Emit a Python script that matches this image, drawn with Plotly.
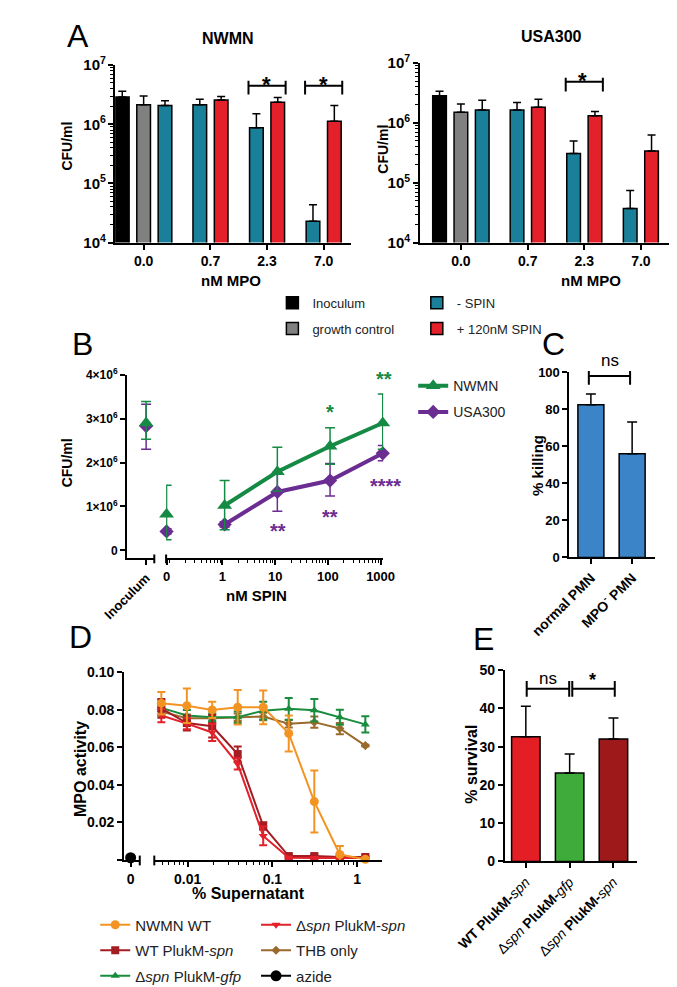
import plotly.graph_objects as go

W, H = 677, 987
FONT = "Liberation Sans"


def X(p):
    return p / W


def Y(p):
    return 1 - p / H


# ---------------- Panel A data (CFU/ml) ----------------
mpo_labels = ["0.0", "0.7", "2.3", "7.0"]
nwmn_inoculum = [2.9e6]
nwmn_inoculum_err = [0.7e6]
nwmn_growth = [2.14e6]
nwmn_growth_err = [0.86e6]
nwmn_minus_spin = [2.07e6, 2.14e6, 8.7e5, 2.3e4]
nwmn_minus_spin_err = [0.43e6, 0.52e6, 0.63e6, 2.05e4]
nwmn_plus_spin = [2.57e6, 2.35e6, 1.13e6]          # at 0.7, 2.3, 7.0 nM
nwmn_plus_spin_err = [0.38e6, 0.49e6, 0.94e6]

usa_inoculum = [2.85e6]
usa_inoculum_err = [0.55e6]
usa_growth = [1.51e6]
usa_growth_err = [0.56e6]
usa_minus_spin = [1.65e6, 1.65e6, 3.1e5, 3.7e4]
usa_minus_spin_err = [0.75e6, 0.55e6, 1.9e5, 3.7e4]
usa_plus_spin = [1.83e6, 1.32e6, 3.4e5]
usa_plus_spin_err = [0.67e6, 0.23e6, 2.9e5]

# ---------------- Panel B data ----------------
spin_conc = [0, 1.1, 11, 110, 1100]
spin_ticks = ["0", "1", "10", "100", "1000"]
nwmn_inoc_b = [2.90e6]
nwmn_inoc_b_up = [0.49e6]
nwmn_inoc_b_down = [0.37e6]
usa_inoc_b = [2.83e6]
usa_inoc_b_up = [0.5e6]
usa_inoc_b_down = [0.53e6]
nwmn_cfu = [0.82e6, 1.02e6, 1.79e6, 2.37e6, 2.90e6]
nwmn_up = [0.66e6, 0.57e6, 0.56e6, 0.42e6, 0.66e6]
nwmn_down = [0.58e6, 0.55e6, 0.44e6, 0.41e6, 0.6e6]
usa_cfu = [0.43e6, 0.59e6, 1.33e6, 1.59e6, 2.21e6]
usa_up = [0.06e6, 0.06e6, 0.45e6, 0.39e6, 0.18e6]
usa_down = [0.06e6, 0.06e6, 0.44e6, 0.35e6, 0.17e6]

# ---------------- Panel C data ----------------
c_labels = ["normal PMN", "MPO<sup>-</sup> PMN"]
c_values = [82.4, 55.9]
c_err = [5.8, 17.1]

# ---------------- Panel D data ----------------
supernatant = [0.0049, 0.0098, 0.0195, 0.039, 0.078, 0.156, 0.3125, 0.625, 1.25]
nwmn_wt = [0.0835, 0.0821, 0.0799, 0.0813, 0.0813, 0.0674, 0.0311, 0.0029, 0.0004]
nwmn_wt_err = [0.006, 0.0092, 0.0043, 0.0092, 0.009, 0.0096, 0.0165, 0.0045, 0.0008]
wt_pluk_spn = [0.0807, 0.0729, 0.0712, 0.0564, 0.0181, 0.0021, 0.0021, 0.0016, 0.0016]
wt_pluk_spn_err = [0.005, 0.004, 0.006, 0.004, 0.002, 0.0008, 0.0008, 0.0008, 0.0008]
dspn_gfp = [0.081, 0.0769, 0.076, 0.076, 0.0795, 0.0805, 0.0797, 0.076, 0.0722]
dspn_gfp_err = [0.004, 0.003, 0.002, 0.003, 0.0047, 0.0058, 0.006, 0.004, 0.0043]
dspn_spn = [0.0769, 0.0726, 0.0679, 0.0512, 0.0128, 0.0012, 0.0011, 0.001, 0.001]
dspn_spn_err = [0.0035, 0.003, 0.0045, 0.003, 0.005, 0.0005, 0.0005, 0.0005, 0.0005]
thb_only = [0.079, 0.0755, 0.0755, 0.076, 0.0764, 0.0726, 0.0734, 0.070, 0.0609]
thb_only_err = [0.002, 0.002, 0.002, 0.002, 0.002, 0.002, 0.003, 0.003, 0.0005]
azide = [0.0012]
d_ticks = ["0.01", "0.1", "1"]

# ---------------- Panel E data ----------------
e_labels = ["<b>WT PlukM-</b><i>spn</i>",
            "Δ<i>spn</i> <b>PlukM-</b><i>gfp</i>",
            "Δ<i>spn</i> <b>PlukM-</b><i>spn</i>"]
e_values = [32.6, 23.1, 32.0]
e_err = [8.0, 5.0, 5.5]

# ---------------- colours ----------------
BLACK = "#000000"
GRAY = "#808080"
TEAL = "#1a7f98"
RED = "#e4202a"
B_GREEN = "#158a45"
B_PURPLE = "#6b2d92"
C_BLUE = "#3b84c8"
D_ORANGE = "#f39322"
D_DARKRED = "#a31d22"
D_GREEN = "#1a8c3e"
D_RED = "#e3212a"
D_BROWN = "#9a6a2c"
E_COLORS = ["#e31e24", "#3eab3a", "#9e1a1a"]

# layout constants for panel A (bar slots)
GROUP_POS = [0, 3.13, 5.78, 8.43]
BW = 0.64

fig = go.Figure()


def bar_trace(x, y, err, color, name, xa, ya, legend="legend", showlegend=False):
    return go.Bar(
        x=x, y=y, width=BW, name=name, xaxis=xa, yaxis=ya,
        marker=dict(color=color, line=dict(color="black", width=1.5)),
        error_y=dict(type="data", array=err, arrayminus=[0] * len(err), symmetric=False,
                     color="black", thickness=1.5, width=4),
        legend=legend, showlegend=showlegend, legendgroup=name,
    )


for (xa, ya, inoc, inoc_e, gr, gr_e, mi, mi_e, pl, pl_e, show) in [
    ("x", "y", nwmn_inoculum, nwmn_inoculum_err, nwmn_growth, nwmn_growth_err,
     nwmn_minus_spin, nwmn_minus_spin_err, nwmn_plus_spin, nwmn_plus_spin_err, True),
    ("x2", "y2", usa_inoculum, usa_inoculum_err, usa_growth, usa_growth_err,
     usa_minus_spin, usa_minus_spin_err, usa_plus_spin, usa_plus_spin_err, False),
]:
    g = GROUP_POS
    fig.add_trace(bar_trace([g[0] - 1], inoc, inoc_e, BLACK, "Inoculum", xa, ya, "legend", show))
    fig.add_trace(bar_trace([g[0]], gr, gr_e, GRAY, "growth control", xa, ya, "legend", show))
    fig.add_trace(bar_trace([g[0] + 1] + [p - 0.5 for p in g[1:]], mi, mi_e, TEAL, "- SPIN", xa, ya, "legend2", show))
    fig.add_trace(bar_trace([p + 0.5 for p in g[1:]], pl, pl_e, RED, "+ 120nM SPIN", xa, ya, "legend2", show))

# ---------------- Panel B traces ----------------
ZERO_POS = 10 ** -1.06
spin_x = [ZERO_POS if c == 0 else c for c in spin_conc]


def b_err(up, down, color):
    return dict(type="data", array=up, arrayminus=down, symmetric=False, color=color, thickness=1.5, width=5)


B_SERIES = [
    ("USA300", usa_inoc_b, usa_inoc_b_up, usa_inoc_b_down, usa_cfu, usa_up, usa_down, B_PURPLE, "diamond", 11, 2),
    ("NWMN", nwmn_inoc_b, nwmn_inoc_b_up, nwmn_inoc_b_down, nwmn_cfu, nwmn_up, nwmn_down, B_GREEN, "triangle-up", 13, 1),
]
for name, inoc, iu, idn, vals, up, dn, col, sym, size, rank in B_SERIES:
    mk = dict(color=col, symbol=sym, size=size)
    fig.add_trace(go.Scatter(x=[0], y=inoc, mode="markers", marker=mk, error_y=b_err(iu, idn, col),
                             xaxis="x3", yaxis="y3", showlegend=False, cliponaxis=False))
    fig.add_trace(go.Scatter(x=spin_x[:1], y=vals[:1], mode="markers", marker=mk,
                             error_y=b_err(up[:1], dn[:1], col),
                             xaxis="x4", yaxis="y3", showlegend=False, cliponaxis=False))
    fig.add_trace(go.Scatter(x=spin_x[1:], y=vals[1:], mode="lines+markers", marker=mk,
                             line=dict(color=col, width=4), error_y=b_err(up[1:], dn[1:], col),
                             xaxis="x4", yaxis="y3", name=name, legend="legend3", legendrank=rank,
                             legendgroup=name, showlegend=True, cliponaxis=False))

# ---------------- Panel C ----------------
fig.add_trace(go.Bar(x=c_labels, y=c_values, width=0.63, xaxis="x5", yaxis="y5", showlegend=False,
                     marker=dict(color=C_BLUE, line=dict(color="black", width=1.5)),
                     error_y=dict(type="data", array=c_err, arrayminus=[0, 0], symmetric=False,
                                  color="black", thickness=1.5, width=5)))

# ---------------- Panel D ----------------
D_SERIES = [
    ("THB only", thb_only, thb_only_err, D_BROWN, "diamond", 7, "legend5", 2),
    ("Δ<i>spn</i> PlukM-<i>gfp</i>", dspn_gfp, dspn_gfp_err, D_GREEN, "triangle-up", 8, "legend4", 3),
    ("WT PlukM-<i>spn</i>", wt_pluk_spn, wt_pluk_spn_err, D_DARKRED, "square", 8, "legend4", 2),
    ("Δ<i>spn</i> PlukM-<i>spn</i>", dspn_spn, dspn_spn_err, D_RED, "triangle-down", 8, "legend5", 1),
    ("NWMN WT", nwmn_wt, nwmn_wt_err, D_ORANGE, "circle", 9, "legend4", 1),
]
for name, vals, err, col, sym, size, leg, rank in D_SERIES:
    fig.add_trace(go.Scatter(
        x=supernatant, y=vals, mode="lines+markers", name=name,
        marker=dict(color=col, symbol=sym, size=size), line=dict(color=col, width=2),
        error_y=dict(type="data", array=err, color=col, thickness=2, width=4),
        xaxis="x7", yaxis="y6", legend=leg, legendrank=rank, legendgroup=name, cliponaxis=False))
fig.add_trace(go.Scatter(x=[0], y=azide, mode="lines+markers", name="azide",
                         marker=dict(color="black", symbol="circle", size=11),
                         line=dict(color="black", width=2),
                         xaxis="x6", yaxis="y6", legend="legend5", legendrank=3, legendgroup="azide",
                         cliponaxis=False))

# ---------------- Panel E ----------------
fig.add_trace(go.Bar(x=e_labels, y=e_values, width=0.65, xaxis="x8", yaxis="y8", showlegend=False,
                     marker=dict(color=E_COLORS, line=dict(color="black", width=1.5)),
                     error_y=dict(type="data", array=e_err, arrayminus=[0, 0, 0], symmetric=False,
                                  color="black", thickness=1.5, width=5)))


# ---------------- axes ----------------
def ax(**kw):
    base = dict(showline=True, linecolor="black", linewidth=2, ticks="outside", ticklen=5,
                tickwidth=2, tickcolor="black", showgrid=False, zeroline=False, fixedrange=True,
                tickfont=dict(family=FONT, size=13, color="black", weight="bold"))
    base.update(kw)
    return base


def tf(size, bold=True):
    return dict(family=FONT, size=size, color="black", weight="bold" if bold else "normal")


minor_log = dict(ticks="outside", ticklen=3, tickwidth=1, tickcolor="black", showgrid=False, dtick="D1")

layout_axes = dict(
    # A left
    xaxis=ax(domain=[X(63), X(323)], range=[-1.33, 9.73], anchor="y", tickmode="array",
             tickvals=GROUP_POS, ticktext=mpo_labels, tickfont=tf(14)),
    yaxis=ax(domain=[Y(228), Y(47)], type="log", range=[4, 7], anchor="x", tickmode="linear", tick0=0,
             dtick=1, exponentformat="power", tickfont=tf(12), minor=minor_log),
    # A right
    xaxis2=ax(domain=[X(398), X(675)], range=[-1.936, 9.85], anchor="y2", tickmode="array",
              tickvals=GROUP_POS, ticktext=mpo_labels, tickfont=tf(14)),
    yaxis2=ax(domain=[Y(228), Y(45)], type="log", range=[4, 7], anchor="x2", tickmode="linear", tick0=0,
              dtick=1, exponentformat="power", tickfont=tf(12), minor=minor_log),
    # B
    xaxis3=ax(domain=[X(76), X(106)], range=[-0.7, 0.3], anchor="y3", tickmode="array",
              tickvals=[0], ticktext=["Inoculum"], tickangle=-45),
    xaxis4=ax(domain=[X(119), X(358)], type="log", range=[-1.069, 3.05], anchor="y3", tickmode="array",
              tickvals=[ZERO_POS, 1, 10, 100, 1000], ticktext=spin_ticks, minor=minor_log),
    yaxis3=ax(domain=[Y(550), Y(362.7)], range=[-0.184e6, 4e6], anchor="x3", tickmode="array",
              tickvals=[0, 1e6, 2e6, 3e6, 4e6],
              ticktext=["0", "1×10<sup>6</sup>", "2×10<sup>6</sup>", "3×10<sup>6</sup>", "4×10<sup>6</sup>"],
              tickfont=tf(12)),
    # C
    xaxis5=ax(domain=[X(563), X(657)], range=[-0.52, 1.55], anchor="y5", type="category", tickangle=-45,
              tickfont=tf(14)),
    yaxis5=ax(domain=[Y(549), Y(360)], range=[0, 100], anchor="x5", tickmode="array",
              tickvals=[0, 20, 40, 60, 80, 100], tickfont=tf(13)),
    # D
    xaxis6=ax(domain=[X(72.7), X(90)], range=[-0.42, 0.58], anchor="y6", tickmode="array",
              tickvals=[0], ticktext=["0"], tickfont=tf(14)),
    xaxis7=ax(domain=[X(106), X(357)], type="log", range=[-2.393, 0.297], anchor="y6", tickmode="array",
              tickvals=[0.01, 0.1, 1], ticktext=d_ticks, minor=minor_log, tickfont=tf(14)),
    yaxis6=ax(domain=[Y(857.5), Y(666)], range=[0, 0.1], anchor="x6", tickmode="array",
              tickvals=[0, 0.02, 0.04, 0.06, 0.08, 0.10], ticktext=["", "0.02", "0.04", "0.06", "0.08", "0.10"],
              tickfont=tf(14)),
    # E
    xaxis8=ax(domain=[X(492), X(637)], range=[-0.477, 2.53], anchor="y8", type="category", tickangle=-45,
              tickfont=tf(14, bold=False)),
    yaxis8=ax(domain=[Y(859), Y(664)], range=[0, 50], anchor="x8", tickmode="array",
              tickvals=[0, 10, 20, 30, 40, 50], tickfont=tf(14)),
)

# ---------------- annotations ----------------
annotations = []


def text(t, x, y, size, bold=True, color="black", angle=0, xanchor="center", yanchor="middle"):
    annotations.append(dict(text=t, x=X(x), y=Y(y), xref="paper", yref="paper", showarrow=False,
                            font=dict(family=FONT, size=size, color=color, weight="bold" if bold else "normal"),
                            textangle=angle, xanchor=xanchor, yanchor=yanchor))


def star(t, x, y, size=20, color="black"):
    text(t, x, y + 0.22 * size, size, True, color)


# panel letters
for letter, lx, ly in [("A", 22, 17), ("B", 27, 331), ("C", 546, 331), ("D", 25, 630), ("E", 468, 632)]:
    text(letter, lx, ly, 32, bold=False)

text("NWMN", 187, 20, 16)
text("USA300", 543, 18, 16)
text("CFU/ml", 10, 130, 14, angle=-90)
text("CFU/ml", 358, 133, 14, angle=-90)
text("nM MPO", 190, 267, 15)
text("nM MPO", 587, 267, 15)
text("CFU/ml", 10, 453, 14, angle=-90)
text("nM SPIN", 218, 588, 15)
text("% killing", 528, 455, 15, angle=-90)
text("MPO activity", 25, 765, 16, angle=-90)
text("% Supernatant", 210, 892, 16)
text("% survival", 455, 760, 16, angle=-90)

# significance stars
star("*", 229, 62, 22)
star("*", 292, 62, 22)
star("*", 577, 58, 22)
star("**", 359, 363, 20, B_GREEN)
star("*", 299, 396, 20, B_GREEN)
star("**", 242, 518, 20, B_PURPLE)
star("**", 299, 503, 20, B_PURPLE)
star("****", 360, 472, 20, B_PURPLE)
text("ns", 608, 348, 17, bold=False)
text("ns", 539, 672, 17, bold=False)
star("*", 588, 670, 18)

# ---------------- shapes (brackets, axis breaks) ----------------
shapes = []


def line(x0, y0, x1, y1, xref="paper", width=2):
    shapes.append(dict(type="line", xref=xref, yref="paper",
                       x0=x0 if xref != "paper" else X(x0), x1=x1 if xref != "paper" else X(x1),
                       y0=Y(y0), y1=Y(y1), line=dict(color="black", width=width)))


def bracket(xa, xb, y, up, down, xref):
    line(xa, y, xb, y, xref)
    line(xa, y - up, xa, y + down, xref)
    line(xb, y - up, xb, y + down, xref)


for g in GROUP_POS[2:]:
    bracket(g - 0.87, g + 0.87, 68, 5, 9, "x")
bracket(GROUP_POS[2] - 0.87, GROUP_POS[2] + 0.87, 64, 4, 10, "x2")
bracket(-0.05, 0.95, 364, 5, 9, "x5")
bracket(0.02, 0.99, 683, 8, 8, "x8")
bracket(1.06, 2.03, 683, 8, 8, "x8")

# axis-break caps
line(106, 546, 106, 555)
line(119, 546, 119, 555)
line(90, 853, 90, 863)
line(106, 853, 106, 863)


def legend_cfg(x, y, size, gap):
    return dict(x=X(x), y=Y(y), xanchor="left", yanchor="top", bgcolor="rgba(0,0,0,0)",
                font=dict(family=FONT, size=size, color="#222222"), tracegroupgap=gap,
                traceorder="grouped", itemclick=False, itemdoubleclick=False)


fig.update_layout(
    width=W, height=H, margin=dict(l=0, r=0, t=0, b=0), autosize=False,
    paper_bgcolor="white", plot_bgcolor="white", barmode="overlay",
    font=dict(family=FONT, color="black"),
    annotations=annotations, shapes=shapes,
    legend=legend_cfg(236, 274, 13, 6),
    legend2=legend_cfg(395, 274, 13, 6),
    legend3=legend_cfg(391, 358, 14, 5),
    legend4=legend_cfg(41, 907, 15, 3),
    legend5=legend_cfg(218, 907, 15, 3),
    **layout_axes,
)

fig.write_html("out.html")
